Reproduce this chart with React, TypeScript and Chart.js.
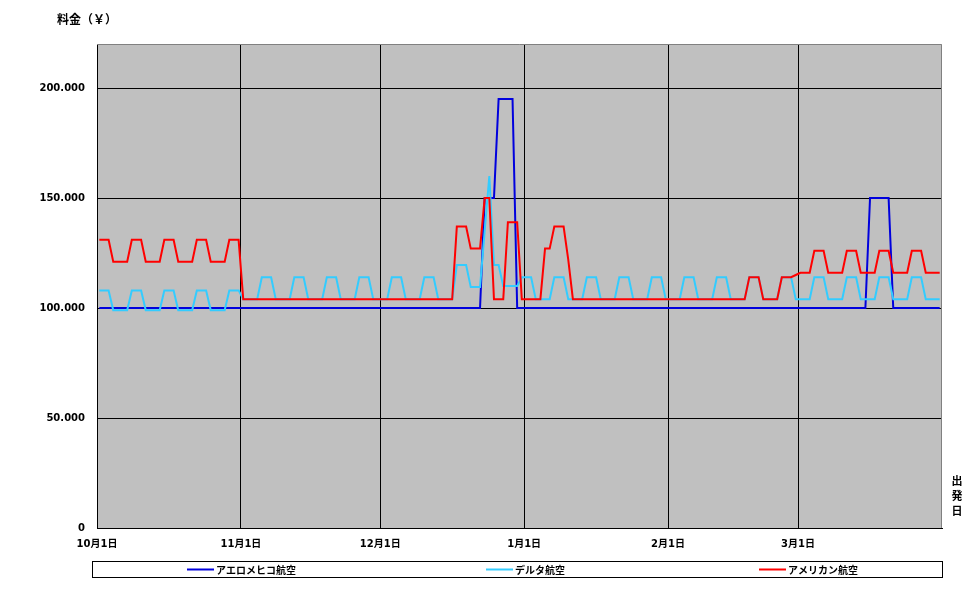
import React, { useEffect, useRef } from 'react';
import { Chart, registerables } from 'chart.js';

Chart.register(...registerables);

// Daily fares from 10月1日 (index 0) to 3月31日 (index 181), in yen.
const seriesNames = ['アエロメヒコ航空', 'デルタ航空', 'アメリカン航空'];
const seriesColors = ['#0000DD', '#33CCFF', '#FF0000'];

const aeromexico: number[] = [
  // Oct
  100000, 100000, 100000, 100000, 100000, 100000, 100000, 100000, 100000, 100000,
  100000, 100000, 100000, 100000, 100000, 100000, 100000, 100000, 100000, 100000,
  100000, 100000, 100000, 100000, 100000, 100000, 100000, 100000, 100000, 100000,
  100000,
  // Nov
  100000, 100000, 100000, 100000, 100000, 100000, 100000, 100000, 100000, 100000,
  100000, 100000, 100000, 100000, 100000, 100000, 100000, 100000, 100000, 100000,
  100000, 100000, 100000, 100000, 100000, 100000, 100000, 100000, 100000, 100000,
  // Dec
  100000, 100000, 100000, 100000, 100000, 100000, 100000, 100000, 100000, 100000,
  100000, 100000, 100000, 100000, 100000, 100000, 100000, 100000, 100000, 100000,
  100000, 100000, 150000, 150000, 150000, 195000, 195000, 195000, 195000, 100000,
  100000,
  // Jan
  100000, 100000, 100000, 100000, 100000, 100000, 100000, 100000, 100000, 100000,
  100000, 100000, 100000, 100000, 100000, 100000, 100000, 100000, 100000, 100000,
  100000, 100000, 100000, 100000, 100000, 100000, 100000, 100000, 100000, 100000,
  100000,
  // Feb
  100000, 100000, 100000, 100000, 100000, 100000, 100000, 100000, 100000, 100000,
  100000, 100000, 100000, 100000, 100000, 100000, 100000, 100000, 100000, 100000,
  100000, 100000, 100000, 100000, 100000, 100000, 100000, 100000,
  // Mar
  100000, 100000, 100000, 100000, 100000, 100000, 100000, 100000, 100000, 100000,
  100000, 100000, 100000, 100000, 100000, 150000, 150000, 150000, 150000, 150000,
  100000, 100000, 100000, 100000, 100000, 100000, 100000, 100000, 100000, 100000,
  100000,
];

const delta: number[] = [
  // Oct
  108000, 108000, 108000, 99000, 99000, 99000, 99000, 108000, 108000, 108000,
  99000, 99000, 99000, 99000, 108000, 108000, 108000, 99000, 99000, 99000,
  99000, 108000, 108000, 108000, 99000, 99000, 99000, 99000, 108000, 108000,
  108000,
  // Nov
  104000, 104000, 104000, 104000, 114000, 114000, 114000, 104000, 104000, 104000,
  104000, 114000, 114000, 114000, 104000, 104000, 104000, 104000, 114000, 114000,
  114000, 104000, 104000, 104000, 104000, 114000, 114000, 114000, 104000, 104000,
  // Dec
  104000, 104000, 114000, 114000, 114000, 104000, 104000, 104000, 104000, 114000,
  114000, 114000, 104000, 104000, 104000, 104000, 119500, 119500, 119500, 109500,
  109500, 109500, 135000, 160000, 119500, 119500, 110000, 110000, 110000, 110000,
  114000,
  // Jan
  114000, 114000, 104000, 104000, 104000, 104000, 114000, 114000, 114000, 104000,
  104000, 104000, 104000, 114000, 114000, 114000, 104000, 104000, 104000, 104000,
  114000, 114000, 114000, 104000, 104000, 104000, 104000, 114000, 114000, 114000,
  104000,
  // Feb
  104000, 104000, 104000, 114000, 114000, 114000, 104000, 104000, 104000, 104000,
  114000, 114000, 114000, 104000, 104000, 104000, 104000, 114000, 114000, 114000,
  104000, 104000, 104000, 104000, 114000, 114000, 114000, 104000,
  // Mar
  104000, 104000, 104000, 114000, 114000, 114000, 104000, 104000, 104000, 104000,
  114000, 114000, 114000, 104000, 104000, 104000, 104000, 114000, 114000, 114000,
  104000, 104000, 104000, 104000, 114000, 114000, 114000, 104000, 104000, 104000,
  104000,
];

const american: number[] = [
  // Oct
  131000, 131000, 131000, 121000, 121000, 121000, 121000, 131000, 131000, 131000,
  121000, 121000, 121000, 121000, 131000, 131000, 131000, 121000, 121000, 121000,
  121000, 131000, 131000, 131000, 121000, 121000, 121000, 121000, 131000, 131000,
  131000,
  // Nov
  104000, 104000, 104000, 104000, 104000, 104000, 104000, 104000, 104000, 104000,
  104000, 104000, 104000, 104000, 104000, 104000, 104000, 104000, 104000, 104000,
  104000, 104000, 104000, 104000, 104000, 104000, 104000, 104000, 104000, 104000,
  // Dec
  104000, 104000, 104000, 104000, 104000, 104000, 104000, 104000, 104000, 104000,
  104000, 104000, 104000, 104000, 104000, 104000, 137000, 137000, 137000, 127000,
  127000, 127000, 150000, 150000, 104000, 104000, 104000, 139000, 139000, 139000,
  104000,
  // Jan
  104000, 104000, 104000, 104000, 127000, 127000, 137000, 137000, 137000, 122000,
  104000, 104000, 104000, 104000, 104000, 104000, 104000, 104000, 104000, 104000,
  104000, 104000, 104000, 104000, 104000, 104000, 104000, 104000, 104000, 104000,
  104000,
  // Feb
  104000, 104000, 104000, 104000, 104000, 104000, 104000, 104000, 104000, 104000,
  104000, 104000, 104000, 104000, 104000, 104000, 104000, 114000, 114000, 114000,
  104000, 104000, 104000, 104000, 114000, 114000, 114000, 115000,
  // Mar
  116000, 116000, 116000, 126000, 126000, 126000, 116000, 116000, 116000, 116000,
  126000, 126000, 126000, 116000, 116000, 116000, 116000, 126000, 126000, 126000,
  116000, 116000, 116000, 116000, 126000, 126000, 126000, 116000, 116000, 116000,
  116000,
];

const xTickDays = [0, 31, 61, 92, 123, 151];
const xTickLabels = ['10月1日', '11月1日', '12月1日', '1月1日', '2月1日', '3月1日'];
const yTicks = [0, 50000, 100000, 150000, 200000];
const totalDays = 182;
const yMax = 220000;

const yTitle = '料金（￥）';
const xTitle = ['出', '発', '日'];

const LABEL_FONT = '"DejaVu Sans", "Noto Sans CJK JP", sans-serif';
const JP_FONT = '"Noto Sans CJK JP", sans-serif';

function fmtYen(v: number): string {
  if (v === 0) return '0';
  const s = String(Math.round(v));
  return s.replace(/\B(?=(\d{3})+(?!\d))/g, '.');
}

const decorPlugin = {
  id: 'decor',
  beforeDraw(chart: any) {
    const { ctx, chartArea: a } = chart;
    ctx.save();
    ctx.fillStyle = '#ffffff';
    ctx.fillRect(0, 0, chart.width, chart.height);
    ctx.fillStyle = '#C0C0C0';
    ctx.fillRect(a.left, a.top, a.right - a.left, a.bottom - a.top);
    ctx.restore();
  },
  afterDraw(chart: any) {
    const { ctx, chartArea: a } = chart;
    ctx.save();
    // plot area border (top / right)
    ctx.strokeStyle = '#808080';
    ctx.lineWidth = 1;
    ctx.beginPath();
    ctx.moveTo(a.left, a.top + 0.5);
    ctx.lineTo(a.right - 0.5, a.top + 0.5);
    ctx.lineTo(a.right - 0.5, a.bottom);
    ctx.stroke();

    // y axis title
    ctx.fillStyle = '#000';
    ctx.font = `bold 12px ${JP_FONT}`;
    ctx.textAlign = 'left';
    ctx.textBaseline = 'middle';
    ctx.fillText(yTitle, 57, 19);

    // x axis title (vertical)
    ctx.font = `bold 11px ${JP_FONT}`;
    ctx.textAlign = 'center';
    xTitle.forEach((ch, i) => {
      ctx.fillText(ch, 957, 481 + i * 15);
    });

    // legend
    const bx = 92, by = 561, bw = 850, bh = 16;
    ctx.strokeStyle = '#000';
    ctx.lineWidth = 1;
    ctx.strokeRect(bx + 0.5, by + 0.5, bw, bh);
    ctx.font = `bold 10px ${JP_FONT}`;
    ctx.textAlign = 'left';
    const cy = by + 8.5;
    seriesNames.forEach((name, i) => {
      const tw = ctx.measureText(name).width;
      const itemW = 29 + tw;
      const center = bx + (i + 0.5) * (bw / 3) + 8;
      const lx = Math.round(center - itemW / 2);
      ctx.strokeStyle = seriesColors[i];
      ctx.lineWidth = 2;
      ctx.beginPath();
      ctx.moveTo(lx, cy);
      ctx.lineTo(lx + 27, cy);
      ctx.stroke();
      ctx.fillStyle = '#000';
      ctx.fillText(name, lx + 29, cy + 0.5);
    });
    ctx.restore();
  },
};

export default function App() {
  const ref = useRef<HTMLCanvasElement | null>(null);

  useEffect(() => {
    document.body.style.margin = '0';
    const canvas = ref.current;
    if (!canvas) return;
    const seriesData = [aeromexico, delta, american];
    const chart = new Chart(canvas, {
      type: 'line',
      data: {
        datasets: seriesData.map((arr, i) => ({
          label: seriesNames[i],
          data: arr.map((v, d) => ({ x: d + 0.5, y: v })),
          borderColor: seriesColors[i],
          backgroundColor: seriesColors[i],
          borderWidth: 2,
          pointRadius: 0,
          pointHoverRadius: 0,
          tension: 0,
          fill: false,
          order: 2 - i,
        })),
      },
      options: {
        animation: false,
        responsive: false,
        devicePixelRatio: 1,
        events: [],
        layout: { padding: { left: 0, top: 44, right: 30, bottom: 0 } },
        plugins: {
          legend: { display: false },
          tooltip: { enabled: false },
          title: { display: false },
        },
        scales: {
          x: {
            type: 'linear',
            min: 0,
            max: totalDays,
            afterFit: (s: any) => {
              s.height = 67;
            },
            afterBuildTicks: (s: any) => {
              s.ticks = xTickDays.map((v) => ({ value: v }));
            },
            grid: { color: '#000', lineWidth: 1, drawTicks: false },
            border: { display: true, color: '#000', width: 1 },
            ticks: {
              autoSkip: false,
              maxRotation: 0,
              minRotation: 0,
              padding: 10,
              color: '#000',
              font: { family: LABEL_FONT, size: 10, weight: 'bold' },
              callback: (v: any) => {
                const idx = xTickDays.indexOf(Number(v));
                return idx >= 0 ? xTickLabels[idx] : '';
              },
            },
          },
          y: {
            type: 'linear',
            min: 0,
            max: yMax,
            afterFit: (s: any) => {
              s.width = 97;
            },
            afterBuildTicks: (s: any) => {
              s.ticks = yTicks.map((v) => ({ value: v }));
            },
            grid: { color: '#000', lineWidth: 1, drawTicks: false },
            border: { display: true, color: '#000', width: 1 },
            ticks: {
              padding: 12,
              color: '#000',
              font: { family: LABEL_FONT, size: 10, weight: 'bold' },
              callback: (v: any) => fmtYen(Number(v)),
            },
          },
        },
      },
      plugins: [decorPlugin],
    } as any);
    return () => {
      chart.destroy();
    };
  }, []);

  return (
    <div style={{ position: 'absolute', left: 0, top: 0, width: 972, height: 595, background: '#fff' }}>
      <canvas ref={ref} width={972} height={595} style={{ display: 'block', width: 972, height: 595 }} />
    </div>
  );
}
